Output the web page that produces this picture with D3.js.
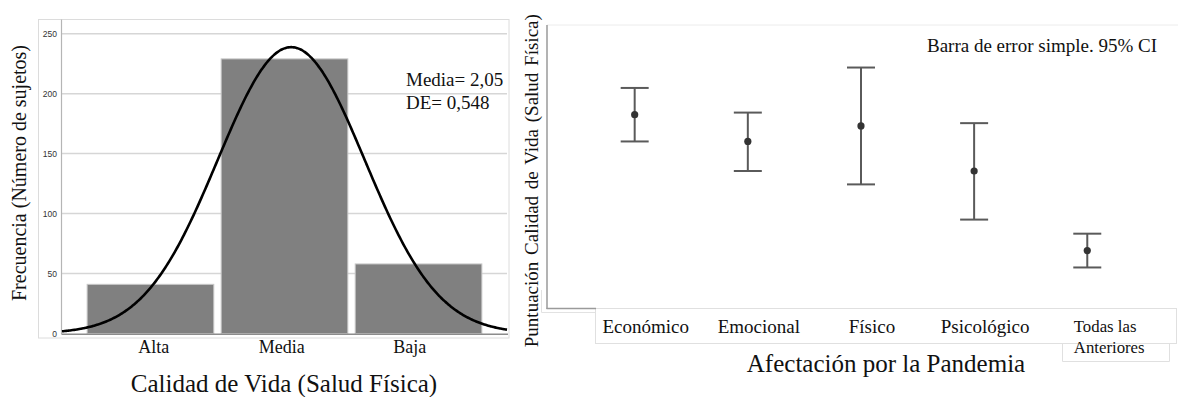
<!DOCTYPE html>
<html><head><meta charset="utf-8">
<script src="https://cdn.jsdelivr.net/npm/d3@7"></script>
<style>
html,body{margin:0;padding:0;background:#fff;}
svg{display:block;}
.serif{font-family:"Liberation Serif","Times New Roman",serif;fill:#111;}
.tick-s{font-family:"Liberation Sans",Arial,sans-serif;font-size:8.5px;fill:#333;}
</style>
</head><body>
<svg id="c" width="1178" height="397"></svg>
<script>
// ---- Left chart data (histogram) ----
const histCategories = ["Alta", "Media", "Baja"];
const histCounts = [41, 229, 58];
const histYTicks = [0, 50, 100, 150, 200, 250];
const histMean = 2.05;
const histSD = 0.548;
const histStatsLabels = ["Media= 2,05", "DE= 0,548"];

// ---- Right chart data (error bars, 95% CI) ----
const errCategories = ["Económico", "Emocional", "Físico", "Psicológico", "Todas las Anteriores"];
const errMeans = [67.5, 63.7, 65.9, 59.5, 48.2];
const errLower = [63.7, 59.5, 57.6, 52.6, 45.8];
const errUpper = [71.3, 67.8, 74.2, 66.3, 50.6];

const svg = d3.select("#c");

// ================= LEFT CHART =================
const L = svg.append("g");
const xL = d3.scaleLinear().domain([0.34, 3.66]).range([62, 507]);
const yL = d3.scaleLinear().domain([0, 250]).range([333.5, 33.7]);

// outer frame
L.append("rect").attr("x", 38.5).attr("y", 19.5).attr("width", 470.5).attr("height", 318.5)
  .attr("fill", "none").attr("stroke", "#dcdcdc").attr("stroke-width", 1);

// gridlines
L.selectAll("line.grid").data(histYTicks.filter(d => d > 0)).enter().append("line")
  .attr("x1", 62).attr("x2", 507).attr("y1", d => yL(d)).attr("y2", d => yL(d))
  .attr("stroke", "#d6d6d6").attr("stroke-width", 1.5);

// y axis line
L.append("line").attr("x1", 61.5).attr("x2", 61.5).attr("y1", 19.5).attr("y2", 334)
  .attr("stroke", "#b5b5b5").attr("stroke-width", 1.2);

// y tick labels
L.selectAll("text.yt").data(histYTicks).enter().append("text")
  .attr("class", "tick-s").attr("x", 57).attr("y", d => yL(d) + 3)
  .attr("text-anchor", "end").text(d => d);

// bars
const bw = xL(0.945) - xL(0);
L.selectAll("rect.bar").data(histCounts).enter().append("rect")
  .attr("x", (d, i) => xL(i + 1) - bw / 2).attr("width", bw)
  .attr("y", d => yL(d)).attr("height", d => yL(0) - yL(d))
  .attr("fill", "#808080").attr("stroke", "#c8c8c8").attr("stroke-width", 1);

// x axis line
L.append("line").attr("x1", 61.5).attr("x2", 508).attr("y1", 334.2).attr("y2", 334.2)
  .attr("stroke", "#8c8c8c").attr("stroke-width", 1.5);

// normal curve
const N = d3.sum(histCounts);
const pdf = x => Math.exp(-0.5 * ((x - histMean) / histSD) ** 2) / (histSD * Math.sqrt(2 * Math.PI));
const curvePts = d3.range(0.34, 3.6601, 0.01).map(x => [x, N * pdf(x)]);
L.append("path").datum(curvePts)
  .attr("d", d3.line().x(d => xL(d[0])).y(d => yL(d[1])).curve(d3.curveBasis))
  .attr("fill", "none").attr("stroke", "#000").attr("stroke-width", 2.6);

// x tick labels
const xLab = d3.scalePoint().domain(histCategories).range([153.7, 409.7]);
L.selectAll("text.xt").data(histCategories).enter().append("text")
  .attr("class", "serif").attr("font-size", 18).attr("text-anchor", "middle")
  .attr("x", d => xLab(d)).attr("y", 353).text(d => d);

// stats
L.selectAll("text.st").data(histStatsLabels).enter().append("text")
  .attr("class", "serif").attr("font-size", 19).attr("x", 406)
  .attr("y", (d, i) => 86 + i * 23).text(d => d);

// titles
L.append("text").attr("class", "serif").attr("font-size", 25).attr("text-anchor", "middle")
  .attr("x", 284).attr("y", 392).text("Calidad de Vida (Salud Física)");
L.append("text").attr("class", "serif").attr("font-size", 20).attr("text-anchor", "middle")
  .attr("transform", "translate(26,173) rotate(-90)").text("Frecuencia  (Número de sujetos)");

// ================= RIGHT CHART =================
const R = svg.append("g");
const xR = d3.scaleBand().domain(errCategories).range([578.1, 1143.85]);
const yR = d3.scaleLinear().domain([40, 80]).range([308.3, 26.7]);

// top faint frame
R.append("line").attr("x1", 547).attr("x2", 1178).attr("y1", 25).attr("y2", 25)
  .attr("stroke", "#ececec").attr("stroke-width", 1);
// faint outer left/bottom frame
R.append("path").attr("d", "M541.5,290 L541.5,312.5 L595.5,312.5")
  .attr("fill", "none").attr("stroke", "#e2e2e2").attr("stroke-width", 1);

// label box
R.append("rect").attr("x", 595.5).attr("y", 308.5).attr("width", 581).attr("height", 35)
  .attr("fill", "none").attr("stroke", "#e0e0e0").attr("stroke-width", 1);
R.append("path").attr("d", "M1062.5,343.5 L1062.5,361.5 L1169.5,361.5 L1169.5,343.5")
  .attr("fill", "none").attr("stroke", "#e0e0e0").attr("stroke-width", 1);

// axes lines
R.append("line").attr("x1", 547).attr("x2", 547).attr("y1", 25).attr("y2", 309)
  .attr("stroke", "#9a9a9a").attr("stroke-width", 1.5);
R.append("line").attr("x1", 546.5).attr("x2", 596).attr("y1", 308.5).attr("y2", 308.5)
  .attr("stroke", "#9a9a9a").attr("stroke-width", 1.5);

// error bars
const cx = d => xR(d) + xR.bandwidth() / 2;
const eb = R.selectAll("g.eb").data(errCategories).enter().append("g");
eb.append("line").attr("x1", d => cx(d)).attr("x2", d => cx(d))
  .attr("y1", (d, i) => yR(errUpper[i])).attr("y2", (d, i) => yR(errLower[i]))
  .attr("stroke", "#5a5a5a").attr("stroke-width", 2);
eb.append("line").attr("x1", d => cx(d) - 14).attr("x2", d => cx(d) + 14)
  .attr("y1", (d, i) => yR(errUpper[i])).attr("y2", (d, i) => yR(errUpper[i]))
  .attr("stroke", "#5a5a5a").attr("stroke-width", 2);
eb.append("line").attr("x1", d => cx(d) - 14).attr("x2", d => cx(d) + 14)
  .attr("y1", (d, i) => yR(errLower[i])).attr("y2", (d, i) => yR(errLower[i]))
  .attr("stroke", "#5a5a5a").attr("stroke-width", 2);
eb.append("circle").attr("cx", d => cx(d)).attr("cy", (d, i) => yR(errMeans[i]))
  .attr("r", 3.6).attr("fill", "#333");

// x tick labels
errCategories.forEach((d, i) => {
  if (i < errCategories.length - 1) {
    R.append("text").attr("class", "serif").attr("font-size", 19).attr("text-anchor", "middle")
      .attr("x", cx(d) + 11).attr("y", 333.3).text(d);
  } else {
    const parts = ["Todas las", "Anteriores"];
    parts.forEach((p, j) => {
      R.append("text").attr("class", "serif").attr("font-size", 16.8)
        .attr("x", cx(d) - 13.5).attr("y", 332.3 + j * 20.4).text(p);
    });
  }
});

// note
R.append("text").attr("class", "serif").attr("font-size", 19).attr("text-anchor", "end")
  .attr("x", 1157).attr("y", 51.7).text("Barra de error simple. 95% CI");

// titles
R.append("text").attr("class", "serif").attr("font-size", 25).attr("text-anchor", "middle")
  .attr("x", 886).attr("y", 371.7).text("Afectación por la Pandemia");
R.append("text").attr("class", "serif").attr("font-size", 19).attr("text-anchor", "middle")
  .attr("word-spacing", 2)
  .attr("transform", "translate(537.5,180.7) rotate(-90)").text("Puntuación Calidad de Vida (Salud Física)");
</script>
</body></html>
